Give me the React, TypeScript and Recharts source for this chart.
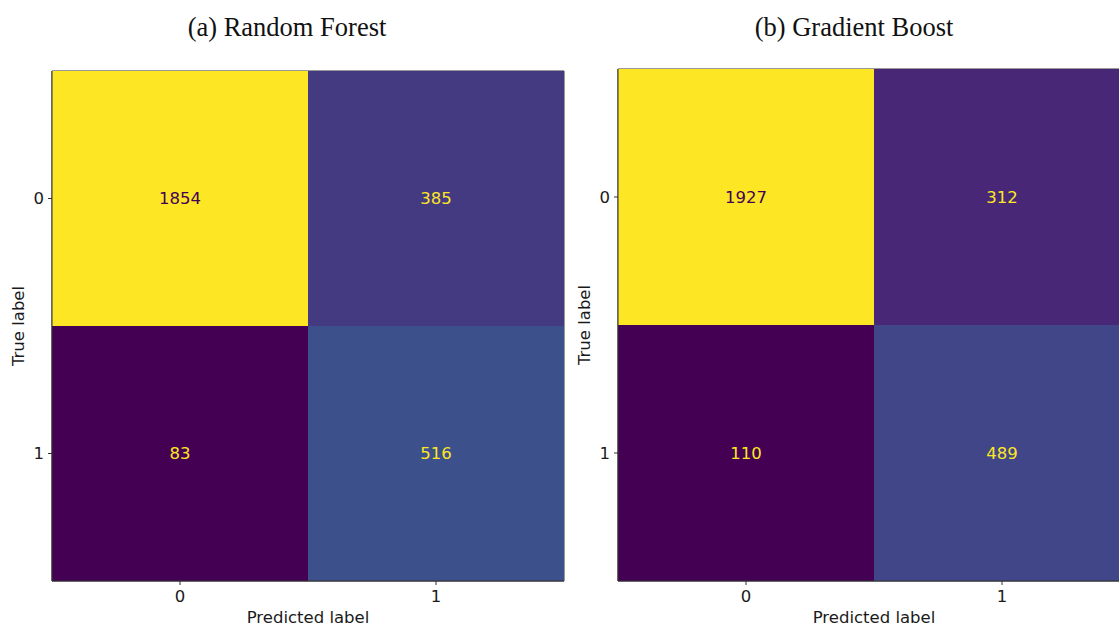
import React from 'react';
import { BarChart, Bar, XAxis, YAxis, LabelList, Cell, ReferenceArea } from 'recharts';

const predictedLabels = ['0', '1'];
const trueLabels = ['0', '1'];

// rows = true label, columns = predicted label
const rfRow0 = [1854, 385];
const rfRow1 = [83, 516];
const gbRow0 = [1927, 312];
const gbRow1 = [110, 489];

const titles = ['(a) Random Forest', '(b) Gradient Boost'];

// viridis colour stops
const VIRIDIS = [
  '#440154', '#471365', '#482475', '#46337f', '#414487', '#3b528b', '#355f8d',
  '#2f6c8e', '#2a788e', '#25848e', '#21918c', '#1e9c89', '#22a884', '#2fb47c',
  '#44bf70', '#5ec962', '#7ad151', '#9bd93c', '#bddf26', '#dfe318', '#fde725',
];

const hexToRgb = (h: string) => [1, 3, 5].map((i) => parseInt(h.slice(i, i + 2), 16));

const viridis = (t: number) => {
  const c = Math.max(0, Math.min(1, t)) * (VIRIDIS.length - 1);
  const i = Math.min(Math.floor(c), VIRIDIS.length - 2);
  const f = c - i;
  const a = hexToRgb(VIRIDIS[i]);
  const b = hexToRgb(VIRIDIS[i + 1]);
  const rgb = a.map((v, k) => Math.round(v + (b[k] - v) * f));
  return `rgb(${rgb.join(',')})`;
};

const FONT = '"DejaVu Sans", sans-serif';
const FS = 16.5;
const SPINE = '#333';
const INK = '#1a1a1a';

type MatrixProps = { row0: number[]; row1: number[]; left: number; top: number; width: number };

const Matrix: React.FC<MatrixProps> = ({ row0, row1, left, top, width }) => {
  const all = [...row0, ...row1];
  const min = Math.min(...all);
  const max = Math.max(...all);
  const mid = (min + max) / 2;
  const norm = (v: number) => (v - min) / (max - min);

  const data = predictedLabels.map((p, i) => ({ pred: p, h0: 1, h1: 1, v0: row0[i], v1: row1[i] }));

  const renderValue = (props: any) => {
    const { x, y, width: w, height: h, value } = props;
    return (
      <text
        x={x + w / 2}
        y={y + h / 2}
        textAnchor="middle"
        dominantBaseline="central"
        fontFamily={FONT}
        fontSize={FS}
        fill={value > mid ? '#440154' : '#fde725'}
      >
        {value}
      </text>
    );
  };

  const tickStyle = { fontFamily: FONT, fontSize: FS, fill: INK };

  return (
    <div style={{ position: 'absolute', left, top: 0 }}>
      <BarChart
        width={width}
        height={630}
        data={data}
        margin={{ top, right: width - 52 - 512, bottom: 3, left: 12 }}
        barCategoryGap={0}
        barGap={0}
      >
        <XAxis
          dataKey="pred"
          height={46}
          tickSize={4}
          tickMargin={5}
          tick={tickStyle}
          axisLine={{ stroke: SPINE }}
          tickLine={{ stroke: SPINE }}
          label={{ value: 'Predicted label', position: 'insideBottom', offset: 4, fontFamily: FONT, fontSize: FS, fill: INK }}
        />
        <YAxis
          type="number"
          domain={[0, 2]}
          ticks={[0.5, 1.5]}
          tickFormatter={(v: number) => (v > 1 ? trueLabels[0] : trueLabels[1])}
          width={40}
          tickSize={4}
          tickMargin={4}
          tick={tickStyle}
          axisLine={{ stroke: SPINE }}
          tickLine={{ stroke: SPINE }}
          label={{
            content: ({ viewBox }: any) => (
              <text
                transform={`translate(${viewBox.x + 6},${viewBox.y + viewBox.height / 2}) rotate(-90)`}
                textAnchor="middle"
                dominantBaseline="central"
                fontFamily={FONT}
                fontSize={FS}
                fill={INK}
              >
                True label
              </text>
            ),
          }}
        />
        <Bar dataKey="h1" stackId="m" isAnimationActive={false}>
          {data.map((d, i) => (
            <Cell key={i} fill={viridis(norm(d.v1))} />
          ))}
          <LabelList dataKey="v1" content={renderValue} />
        </Bar>
        <Bar dataKey="h0" stackId="m" isAnimationActive={false}>
          {data.map((d, i) => (
            <Cell key={i} fill={viridis(norm(d.v0))} />
          ))}
          <LabelList dataKey="v0" content={renderValue} />
        </Bar>
        <ReferenceArea
          x1={predictedLabels[0]}
          x2={predictedLabels[predictedLabels.length - 1]}
          y1={0}
          y2={2}
          fill="none"
          stroke={SPINE}
          strokeWidth={1}
          ifOverflow="visible"
        />
      </BarChart>
    </div>
  );
};

const titleStyle: React.CSSProperties = {
  position: 'absolute',
  width: 400,
  top: 10,
  textAlign: 'center',
  fontFamily: '"Liberation Serif", serif',
  fontSize: 26.5,
  color: '#111',
  lineHeight: '34px',
};

const App: React.FC = () => (
  <div style={{ position: 'absolute', left: 0, top: 0, width: 1119, height: 630, overflow: 'hidden', background: '#fff' }}>
    <div style={{ ...titleStyle, left: 87 }}>{titles[0]}</div>
    <div style={{ ...titleStyle, left: 654 }}>{titles[1]}</div>
    <Matrix row0={rfRow0} row1={rfRow1} left={0} top={71} width={566} />
    <Matrix row0={gbRow0} row1={gbRow1} left={566} top={69} width={564} />
  </div>
);

export default App;
